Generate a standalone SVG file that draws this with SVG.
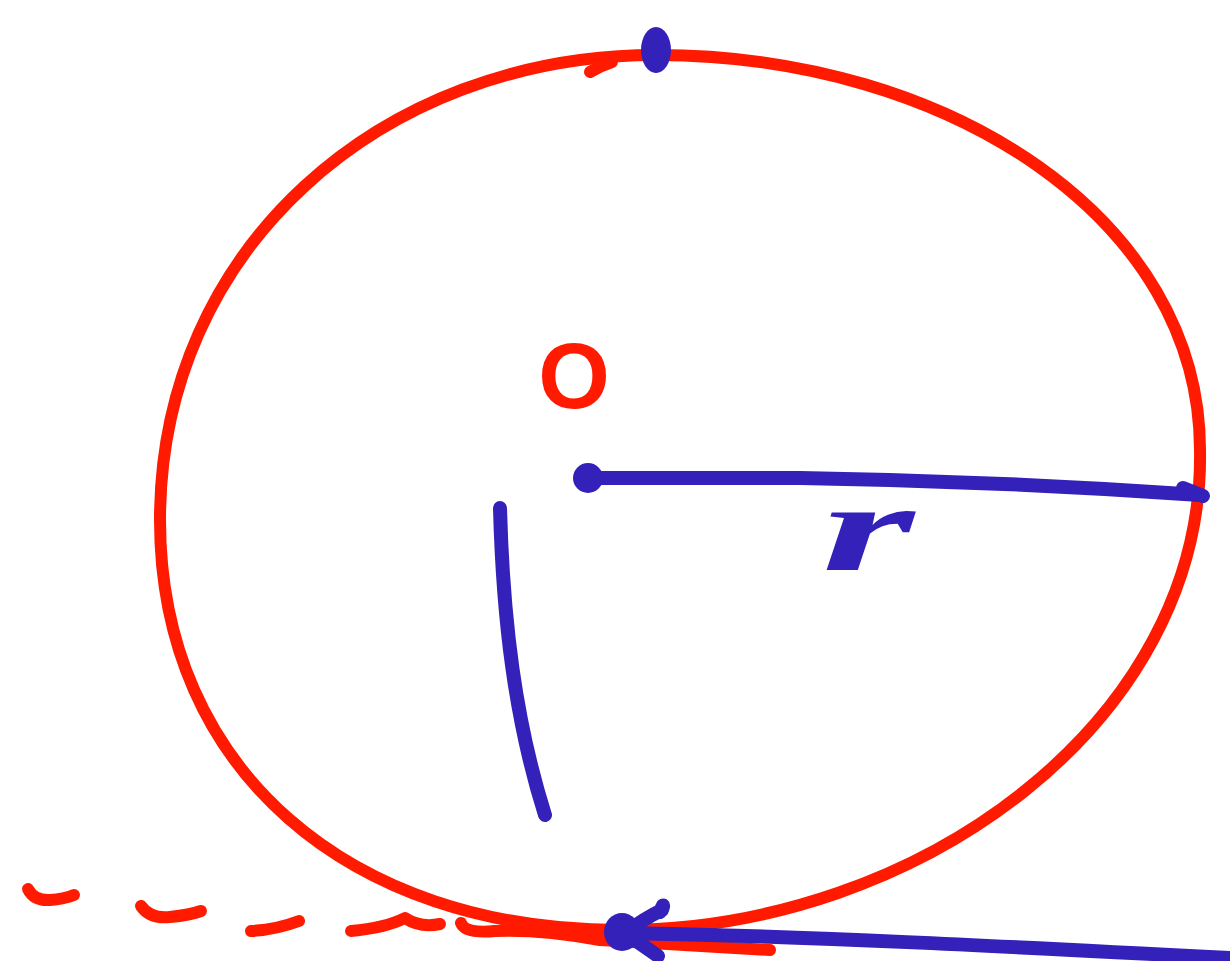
<svg xmlns="http://www.w3.org/2000/svg" width="1230" height="961" viewBox="0 0 1230 961">
<style>
.red{fill:none;stroke:#ff1a00;stroke-width:12;stroke-linecap:round;stroke-linejoin:round}
.blue{fill:none;stroke:#3421b9;stroke-width:14;stroke-linecap:round;stroke-linejoin:round}
.bfill{fill:#3421b9}
.lblO{font-family:"Liberation Sans",Arial,sans-serif;font-weight:bold}
.lblr{font-family:"Liberation Serif",serif;font-weight:bold;font-style:italic}
</style>
<rect width="1230" height="961" fill="#ffffff"/>
<g id="ground">
<path class="red" d="M28,889 Q34,901 50,900 Q64,899 74,895"/>
<path class="red" d="M141,906 Q150,919 170,917 Q190,915 201,911"/>
<path class="red" d="M251,931 Q275,930 299,921"/>
<path class="red" d="M351,931 Q385,928 405,918 Q420,928 440,924"/>
<path class="red" d="M461,923 Q465,934 495,931 Q540,929 600,940 L770,950"/>
</g>
<g id="circle">
<path class="red" d="M656,55 C950,55 1200,220 1200,450 C1205,720 920,930 620,930 C350,930 160,770 160,520 C160,250 380,55 656,55 Z"/>
<path class="red" d="M590,72 Q600,66 612,62"/>
</g>
<g id="label-O">
<text class="lblO" x="574" y="408" font-size="92" fill="#ff1a00" text-anchor="middle">O</text>
</g>
<g id="connectors">
<path class="blue" d="M590,478 L800,478 Q1000,481 1200,495"/>
<path class="blue" d="M1183,488 L1203,496"/>
<path class="blue" d="M500,508 C503,620 515,720 545,815"/>
<path class="blue" d="M1230,958 C1000,946 800,936 625,933"/>
<path class="blue" d="M625,933 Q645,918 662,910 Q665,900 660,912"/>
<path class="blue" d="M625,933 L658,956"/>
</g>
<g id="point-top"><ellipse class="bfill" cx="656" cy="50" rx="15" ry="23"/></g>
<g id="point-center"><circle class="bfill" cx="588" cy="478" r="15"/></g>
<g id="point-bottom"><ellipse class="bfill" cx="622" cy="932" rx="18" ry="19"/></g>
<g id="label-r">
<text class="lblr" transform="translate(868,570) scale(1.9,1)" font-size="125" fill="#3421b9" text-anchor="middle">r</text>
</g>
</svg>
